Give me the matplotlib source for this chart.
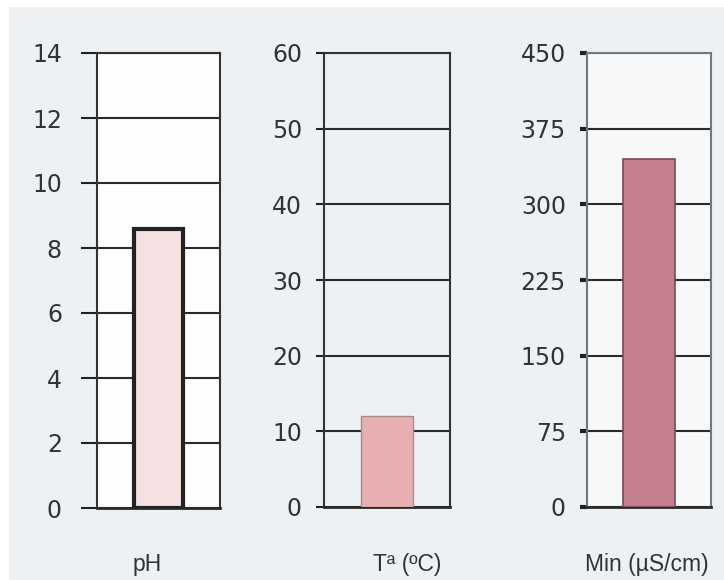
import matplotlib
matplotlib.use("Agg")
import matplotlib.pyplot as plt
from matplotlib.patches import Rectangle

# data
labels = ["pH", "Tª (ºC)", "Min (µS/cm)"]
values = [8.6, 12, 345]
y_max = [14, 60, 450]
y_ticks = [[0, 2, 4, 6, 8, 10, 12, 14],
           [0, 10, 20, 30, 40, 50, 60],
           [0, 75, 150, 225, 300, 375, 450]]

plt.rcParams['font.family'] = ['DejaVu Sans']

W, H = 724, 580
bg = '#eef1f4'
fig = plt.figure(figsize=(W / 100, H / 100), dpi=100)
fig.patch.set_facecolor('white')
# light panel behind everything, leaving a thin white strip top and left
fig.patches.append(Rectangle((9 / W, 0), 1, 1 - 7 / H, transform=fig.transFigure,
                             facecolor=bg, edgecolor='none', zorder=-10))

def px_axes(left, right, top, bottom):
    return fig.add_axes([left / W, (H - bottom) / H, (right - left) / W, (bottom - top) / H])

# panel boxes in pixels: left, right, top, bottom
boxes = [(97, 220, 53, 508), (324, 450, 53, 507), (587, 711, 53, 507)]
faces = ['#fdfdfd', bg, '#f6f8fa']
bar_colors = ['#f5e1e2', '#e8afb3', '#c47e8e']
bar_edges = ['#222222', '#a88a8c', '#7a4a55']
bar_lw = [3.0, 1.0, 1.2]
bar_w = [0.40, 0.41, 0.42]
frame_colors = ['#333333', '#333333', '#777777']
tick_len = [16, 8, 7]
tick_w = [1.5, 1.5, 3]
pads = [19, 14, 14]
label_x = [147, 407, 647]

label_font = ['Liberation Sans Narrow', 'Liberation Sans', 'DejaVu Sans']

for i in range(3):
    ax = px_axes(*boxes[i])
    ax.set_facecolor(faces[i])
    ax.set_xlim(-0.5, 0.5)
    ax.set_ylim(0, y_max[i])
    ax.set_yticks(y_ticks[i])
    ax.set_xticks([])
    # gridlines sit behind the bar
    for t in y_ticks[i]:
        ax.axhline(t, color='#2a2a2a', lw=1.5, zorder=1)
    ax.bar([0], [values[i]], width=bar_w[i], color=bar_colors[i],
           edgecolor=bar_edges[i], linewidth=bar_lw[i], zorder=3)
    for s in ['left', 'right', 'top']:
        ax.spines[s].set_color(frame_colors[i])
        ax.spines[s].set_linewidth(1.5)
    ax.spines['bottom'].set_color('#2a2a2a')
    ax.spines['bottom'].set_linewidth(2)
    ax.tick_params(axis='y', length=tick_len[i] * 0.72, width=tick_w[i],
                   color='#222222', labelsize=17, labelcolor='#333333',
                   pad=pads[i] * 0.72)
    fig.text(label_x[i] / W, 1 - 564 / H, labels[i], ha='center', va='center',
             fontsize=16.5, color='#333333', family=label_font)

fig.savefig('out.png', dpi=100, facecolor=fig.get_facecolor())
